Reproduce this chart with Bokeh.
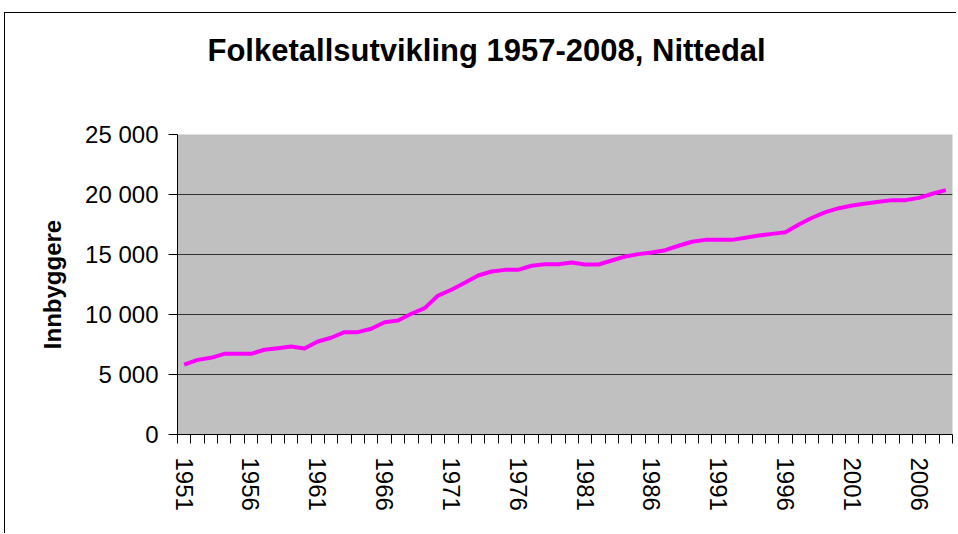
from bokeh.plotting import figure
from bokeh.models import FixedTicker, Range1d, LinearAxis
from bokeh.embed import file_html
from bokeh.resources import INLINE

# ---- data ----
title_text = "Folketallsutvikling 1957-2008, Nittedal"
y_title = "Innbyggere"
years = list(range(1951, 2009))
population = [5830, 6220, 6390, 6720, 6720, 6720, 7060, 7190, 7330, 7170,
              7750, 8060, 8530, 8530, 8810, 9360, 9500, 10060, 10530, 11580,
              12060, 12640, 13250, 13580, 13720, 13720, 14060, 14190, 14190, 14330,
              14170, 14170, 14500, 14830, 15030, 15170, 15360, 15730, 16060, 16220,
              16220, 16220, 16390, 16580, 16720, 16860, 17500, 18060, 18530, 18860,
              19080, 19250, 19390, 19530, 19530, 19720, 20060, 20360]
x_label_years = [1951, 1956, 1961, 1966, 1971, 1976, 1981, 1986, 1991, 1996, 2001, 2006]
y_ticks = [0, 5000, 10000, 15000, 20000, 25000]
y_tick_labels = ["0", "5 000", "10 000", "15 000", "20 000", "25 000"]

FONT = "Liberation Sans"

p = figure(width=952, height=521, output_backend="svg", toolbar_location=None,
           x_range=Range1d(years[0] - 0.5, years[-1] + 0.5),
           y_range=Range1d(y_ticks[0], y_ticks[-1]),
           min_border_left=172, min_border_top=121, min_border_right=5,
           min_border_bottom=100)
p.styles = {"position": "relative", "left": "4px", "top": "12px",
            "border-left": "1px solid #000000", "border-top": "1px solid #000000"}

p.background_fill_color = "#C0C0C0"
p.border_fill_color = "#FFFFFF"
p.outline_line_color = None

# x axis (the bottom one)
xa = p.below[0]
xa.ticker = FixedTicker(ticks=x_label_years,
                        minor_ticks=[y - 0.5 for y in years] + [years[-1] + 0.5])
xa.major_tick_out = 0
xa.major_tick_in = 0
xa.minor_tick_out = 9
xa.minor_tick_in = 0
xa.minor_tick_line_color = "#000000"
xa.axis_line_color = "#000000"
xa.major_label_orientation = "vertical"
xa.major_label_standoff = 14
xa.major_label_text_font = FONT
xa.major_label_text_font_size = "24px"
xa.major_label_text_color = "#000000"

# invisible spacer between the title and the plot frame
mid = x_label_years[len(x_label_years) // 2]
spacer = LinearAxis(ticker=FixedTicker(ticks=[mid], minor_ticks=[]),
                    axis_line_color=None, major_tick_line_color=None,
                    minor_tick_line_color=None, major_tick_out=50,
                    major_tick_in=0, minor_tick_out=0, major_label_standoff=0,
                    major_label_overrides={mid: ""},
                    major_label_text_font_size="0px")
p.add_layout(spacer, "above")

p.title.text = title_text
p.title.text_font = FONT
p.title.text_font_size = "31px"
p.title.text_font_style = "bold"
p.title.text_color = "#000000"
p.title.align = "left"
p.title.offset = 30
p.title.standoff = 33

p.line(years, population, line_color="#FF00FF", line_width=4, line_join="round")

# y axis
ya = p.left[0]
ya.ticker = FixedTicker(ticks=y_ticks, minor_ticks=[])
ya.major_label_overrides = {t: l for t, l in zip(y_ticks, y_tick_labels)}
ya.major_tick_out = 9
ya.major_tick_in = 0
ya.major_tick_line_color = "#000000"
ya.axis_line_color = "#000000"
ya.major_label_standoff = 10
ya.major_label_text_font = FONT
ya.major_label_text_font_size = "24px"
ya.major_label_text_color = "#000000"
ya.axis_label = y_title
ya.axis_label_text_font = FONT
ya.axis_label_text_font_size = "24px"
ya.axis_label_text_font_style = "bold"
ya.axis_label_text_color = "#000000"
ya.axis_label_standoff = 16

p.xgrid.grid_line_color = None
p.ygrid.grid_line_color = "#333333"
p.ygrid.grid_line_width = 1

open("out.html", "w").write(file_html(p, INLINE))
